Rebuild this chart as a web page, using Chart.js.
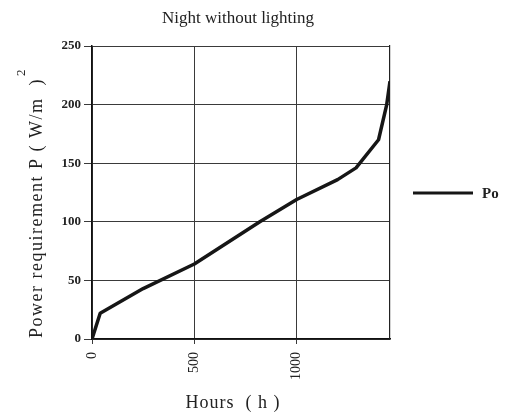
<!DOCTYPE html>
<html>
<head>
<meta charset="utf-8">
<script src="https://cdn.jsdelivr.net/npm/chart.js@4/dist/chart.umd.min.js"></script>
<style>
html,body{margin:0;padding:0;background:#fff;}
#wrap{width:515px;height:414px;position:relative;}
</style>
</head>
<body>
<div id="wrap"><canvas id="c"></canvas></div>
<script>
const chartTitle = 'Night without lighting';
const xTitle = 'Hours  ( h )';
const yTitleMain = 'Power requirement P ( W/m  )';
const yTitleSup = '2';
const seriesName = 'Po';
const hours = [0, 40, 250, 500, 820, 1000, 1200, 1290, 1400, 1440, 1456];
const power = [0, 22, 43, 64, 100, 119, 136, 146, 170, 200, 220];
const xTicks = [0, 500, 1000];
const xMax = 1456;
const yTicks = [0, 50, 100, 150, 200, 250];

const serif = '"Liberation Serif", "DejaVu Serif", serif';

const decor = {
  id: 'decor',
  afterDraw(chart) {
    const ctx = chart.ctx;
    ctx.save();
    ctx.fillStyle = '#222';
    // title
    ctx.font = '17px ' + serif;
    ctx.textAlign = 'center';
    ctx.textBaseline = 'middle';
    ctx.fillText(chartTitle, 238, 19);
    // x title
    ctx.font = '18px ' + serif;
    ctx.letterSpacing = '1px';
    ctx.fillText(xTitle, 233, 403);
    // y title rotated, drawn from its start at the bottom
    ctx.save();
    ctx.translate(37, 338);
    ctx.rotate(-Math.PI / 2);
    ctx.font = '18px ' + serif;
    ctx.letterSpacing = '1.5px';
    ctx.textAlign = 'left';
    ctx.fillText(yTitleMain, 0, 0);
    const w = ctx.measureText(yTitleMain).width;
    ctx.letterSpacing = '0px';
    ctx.font = '13px ' + serif;
    ctx.fillText(yTitleSup, w + 2, -15);
    ctx.restore();
    // legend
    const ds = chart.data.datasets[0];
    ctx.letterSpacing = '0px';
    ctx.strokeStyle = ds.borderColor;
    ctx.lineWidth = 3;
    ctx.beginPath();
    ctx.moveTo(413, 193);
    ctx.lineTo(473, 193);
    ctx.stroke();
    ctx.font = 'bold 15px ' + serif;
    ctx.textAlign = 'left';
    ctx.fillText(ds.label, 482, 194);
    ctx.restore();
  }
};

new Chart(document.getElementById('c'), {
  type: 'line',
  data: {
    datasets: [{
      label: seriesName,
      data: hours.map((h, i) => ({x: h, y: power[i]})),
      borderColor: '#161616',
      borderWidth: 3.5,
      pointRadius: 0,
      tension: 0,
      fill: false,
      borderJoinStyle: 'round'
    }]
  },
  options: {
    responsive: true,
    maintainAspectRatio: false,
    animation: false,
    layout: {padding: {top: 46, left: 0, right: 0, bottom: 0}},
    plugins: {legend: {display: false}, title: {display: false}, tooltip: {enabled: false}},
    scales: {
      x: {
        type: 'linear',
        min: 0,
        max: xMax,
        afterBuildTicks(s) { s.ticks = xTicks.map(v => ({value: v})); },
        afterFit(s) { s.height = 75; },
        ticks: {
          minRotation: 90, maxRotation: 90,
          font: {family: serif, size: 14},
          color: '#222',
          padding: 8,
          callback: v => String(v)
        },
        grid: {color: '#3a3a3a', lineWidth: 1, tickLength: 5},
        border: {color: '#111', width: 1.5}
      },
      y: {
        type: 'linear',
        min: 0,
        max: 250,
        afterBuildTicks(s) { s.ticks = yTicks.map(v => ({value: v})); },
        afterFit(s) { s.width = 92; },
        ticks: {
          font: {family: serif, size: 13, weight: 'bold'},
          color: '#222',
          padding: 3,
          callback: v => String(v)
        },
        grid: {color: '#3a3a3a', lineWidth: 1, tickLength: 8},
        border: {color: '#111', width: 1.5}
      },
      y2: {
        type: 'linear',
        position: 'right',
        min: 0,
        max: 250,
        afterFit(s) { s.width = 125; },
        ticks: {display: false},
        grid: {drawOnChartArea: false, drawTicks: false},
        border: {color: '#222', width: 1.2}
      }
    }
  },
  plugins: [decor]
});
</script>
</body>
</html>
